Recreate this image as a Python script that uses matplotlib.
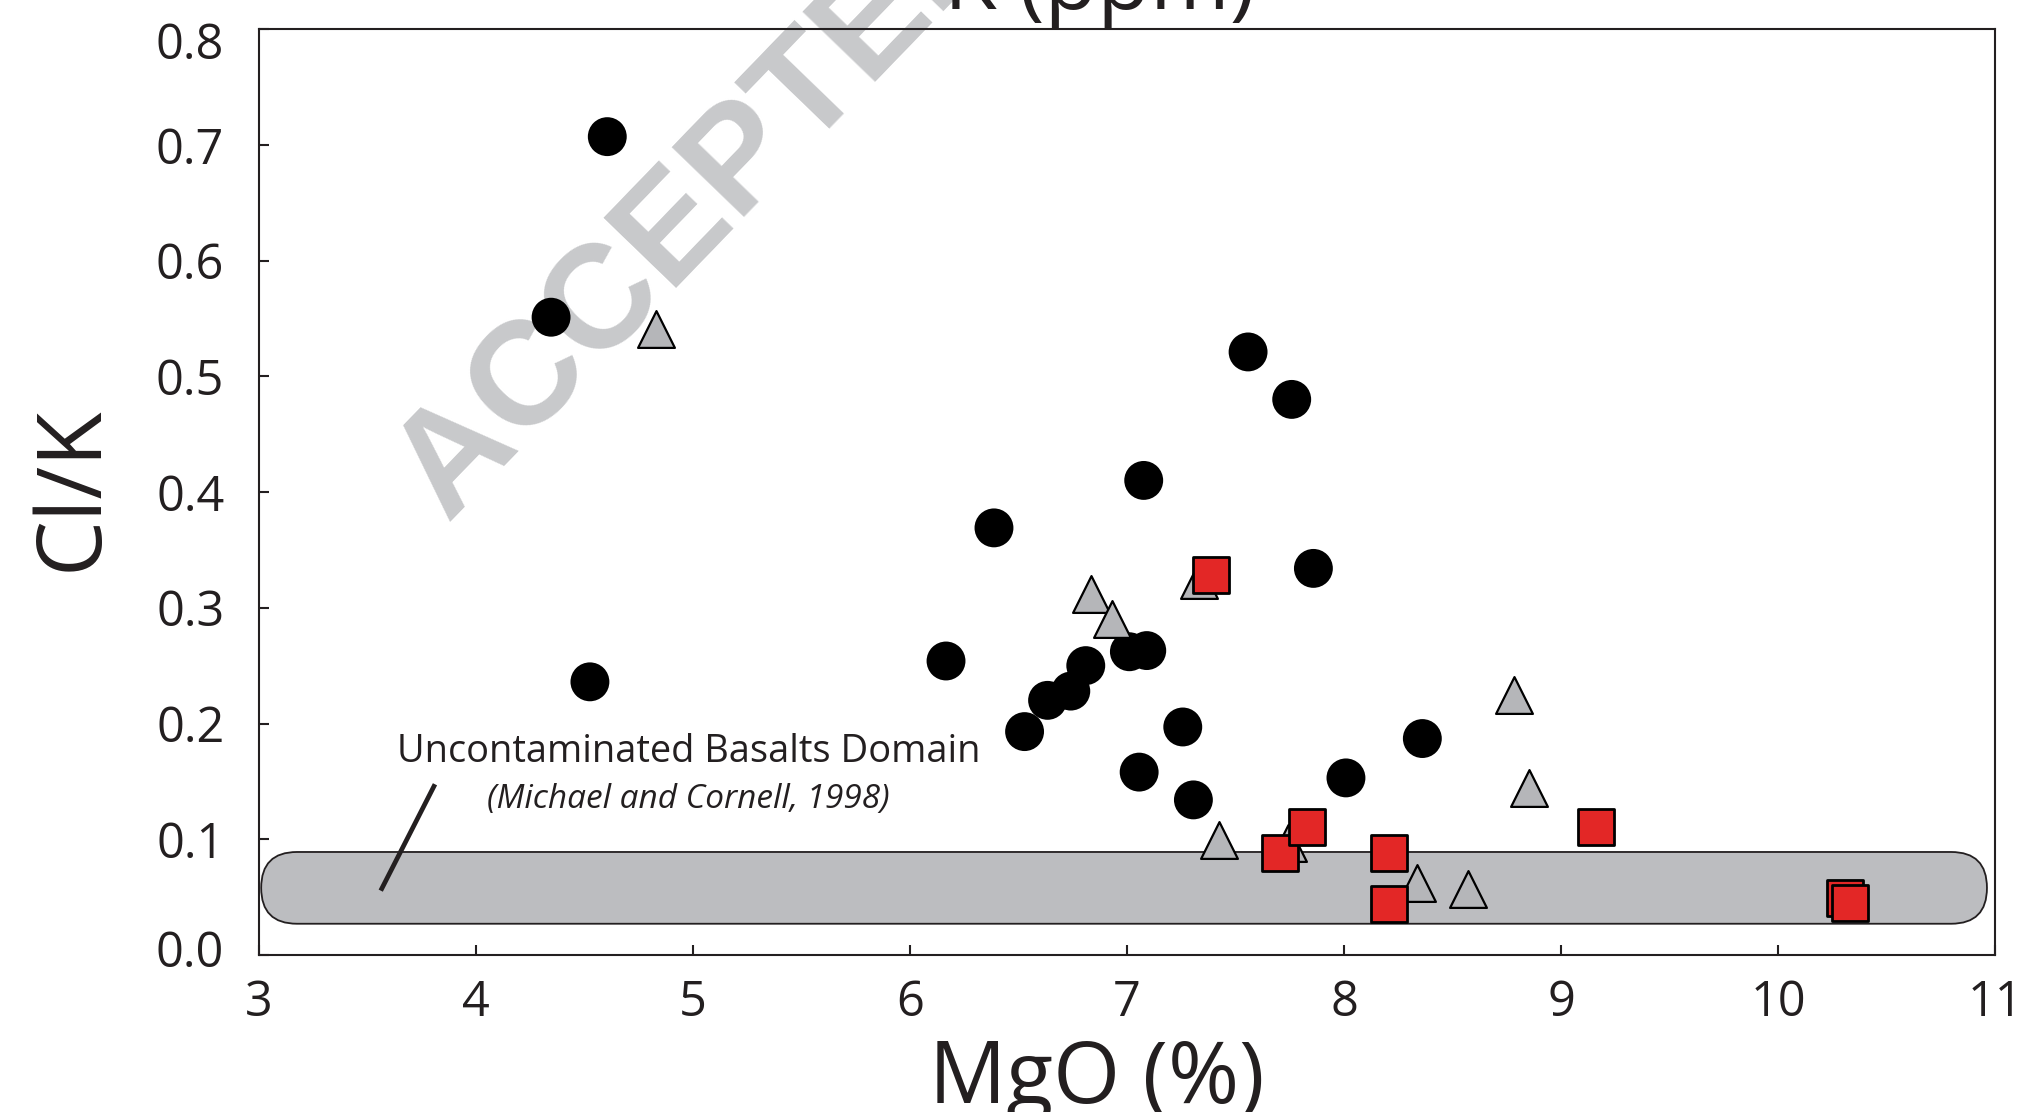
import matplotlib
matplotlib.use("Agg")
import matplotlib.pyplot as plt
import matplotlib.transforms as mtransforms
from matplotlib.patches import FancyBboxPatch

# ---------------------------------------------------------------------------
# Data
# ---------------------------------------------------------------------------
circle_mgo = [4.605, 4.346, 4.525, 7.558, 7.759, 7.077, 6.387, 7.859, 6.166,
              7.011, 7.091, 6.810, 6.741, 6.634, 6.528, 7.257, 8.361, 7.056,
              8.009, 7.306]
circle_clk = [0.707, 0.551, 0.236, 0.521, 0.480, 0.410, 0.369, 0.334, 0.254,
              0.262, 0.263, 0.250, 0.228, 0.220, 0.193, 0.197, 0.187, 0.158,
              0.153, 0.134]

triangle_mgo = [4.829, 6.833, 6.931, 7.330, 7.422, 7.741, 8.335, 8.573, 8.785, 8.854]
triangle_clk = [0.541, 0.312, 0.290, 0.324, 0.099, 0.097, 0.062, 0.057, 0.225, 0.144]

square_mgo = [7.386, 7.707, 7.829, 8.207, 8.207, 9.160, 10.310, 10.330]
square_clk = [0.328, 0.088, 0.111, 0.088, 0.044, 0.111, 0.049, 0.045]

# uncontaminated basalt domain (Michael and Cornell, 1998)
domain_mgo = (3.01, 10.963)
domain_clk = (0.027, 0.089)

x_ticks = [3, 4, 5, 6, 7, 8, 9, 10, 11]
x_tick_labels = ["3", "4", "5", "6", "7", "8", "9", "10", "11"]
y_ticks = [0.0, 0.1, 0.2, 0.3, 0.4, 0.5, 0.6, 0.7, 0.8]
y_tick_labels = ["0.0", "0.1", "0.2", "0.3", "0.4", "0.5", "0.6", "0.7", "0.8"]

# ---------------------------------------------------------------------------
# Style
# ---------------------------------------------------------------------------
INK = "#231F20"
BAND_GREY = "#BCBDC0"
TRI_GREY = "#B5B6B9"
RED = "#E32726"
WATERMARK = "#C8C9CB"

plt.rcParams.update({
    "font.family": ["Open Sans", "DejaVu Sans"],
    "text.color": INK,
    "axes.edgecolor": INK,
    "xtick.color": INK,
    "ytick.color": INK,
})

W, H, DPI = 2022, 1112, 100
fig = plt.figure(figsize=(W / DPI, H / DPI), dpi=DPI)
ax = fig.add_axes([259 / W, 1 - 955 / H, (1995 - 259) / W, (955 - 29) / H])

# domain band
band = FancyBboxPatch(
    (domain_mgo[0], domain_clk[0]),
    domain_mgo[1] - domain_mgo[0],
    domain_clk[1] - domain_clk[0],
    boxstyle="round,pad=0,rounding_size=0.165",
    mutation_aspect=0.031 / 0.165,
    facecolor=BAND_GREY, edgecolor=INK, linewidth=1.3, zorder=1.2,
)
ax.add_patch(band)

ax.scatter(circle_mgo, circle_clk, s=28 ** 2, marker="o",
           facecolor="black", edgecolor="none", zorder=3)
ax.scatter(triangle_mgo, triangle_clk, s=26.5 ** 2, marker="^",
           facecolor=TRI_GREY, edgecolor="black", linewidth=1.6, zorder=4)
ax.scatter(square_mgo, square_clk, s=25.5 ** 2, marker="s",
           facecolor=RED, edgecolor="black", linewidth=2.0, zorder=5)

# annotation
ax.plot([3.811, 3.561], [0.1475, 0.0556], color=INK, lw=3.4,
        solid_capstyle="butt", zorder=2)
ax.text(4.98, 0.175, "Uncontaminated Basalts Domain", fontsize=27.4,
        ha="center", va="center", zorder=6)
ax.text(4.98, 0.1345, "(Michael and Cornell, 1998)", fontsize=24,
        style="italic", ha="center", va="center", zorder=6)

ax.set_xlim(3, 11)
ax.set_ylim(0, 0.8)
ax.set_xticks(x_ticks)
ax.set_xticklabels(x_tick_labels)
ax.set_yticks(y_ticks)
ax.set_yticklabels(y_tick_labels)
ax.tick_params(axis="both", direction="in", length=7, width=1.5,
               labelsize=35)
ax.tick_params(axis="x", pad=17)
ax.tick_params(axis="y", pad=25)
for sp in ax.spines.values():
    sp.set_linewidth(1.5)

# end labels sit slightly inside the axis range in the original
ylabels = ax.get_yticklabels()
ylabels[0].set_transform(ylabels[0].get_transform()
                         + mtransforms.ScaledTranslation(0, 7 / DPI, fig.dpi_scale_trans))
ylabels[-1].set_transform(ylabels[-1].get_transform()
                          + mtransforms.ScaledTranslation(0, -11 / DPI, fig.dpi_scale_trans))

# axis titles
fig.text(97 / W, 1 - 488 / H, "Cl/K", fontsize=64, rotation=90,
         rotation_mode="anchor", ha="center", va="baseline")
fig.text(1097 / W, 1 - 1103 / H, "MgO (%)", fontsize=62,
         ha="center", va="baseline")
# x-axis title of the panel above, cut off by the page crop
fig.text(1100 / W, 1 - 9 / H, "K (ppm)", fontsize=62,
         ha="center", va="baseline")

# journal watermark
ax.text(448 / W, 1 - 524 / H, "ACCEPTED MANUSCRIPT", transform=fig.transFigure,
        fontsize=106, fontfamily="Liberation Sans", fontweight="bold",
        color=WATERMARK, rotation=46, rotation_mode="anchor",
        ha="left", va="baseline", clip_on=False, zorder=0.5)

fig.savefig("out.png", dpi=DPI)
